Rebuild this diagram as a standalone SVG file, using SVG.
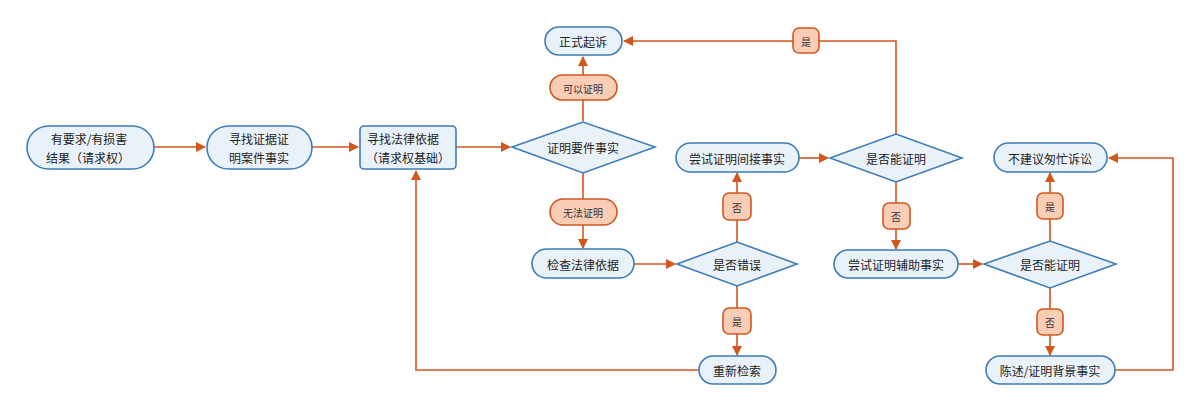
<svg xmlns="http://www.w3.org/2000/svg" width="1200" height="412" viewBox="0 0 1200 412">
<defs>
<marker id="arr" viewBox="0 0 10 10" refX="9" refY="5" markerWidth="10" markerHeight="10" markerUnits="userSpaceOnUse" orient="auto">
<path d="M0,0 L10,5 L0,10 z" fill="#d2571f"/>
</marker>
<style>
.n{fill:#eaf2f9;stroke:#3d7db8;stroke-width:1.6}
.l{fill:#f9cdb6;stroke:#d2571f;stroke-width:1.6}
.c{fill:none;stroke:#d2571f;stroke-width:1.6}
.t{font-family:"Noto Sans CJK SC","Noto Sans",sans-serif;font-size:12px;fill:#222;text-anchor:middle;dominant-baseline:central}
.s{font-family:"Noto Sans CJK SC","Noto Sans",sans-serif;font-size:10px;fill:#333;text-anchor:middle;dominant-baseline:central}
</style>
</defs>
<rect width="1200" height="412" fill="#ffffff"/>
<g id="connectors">
<path class="c" d="M154,147 H205" marker-end="url(#arr)"/>
<path class="c" d="M312,147 H358" marker-end="url(#arr)"/>
<path class="c" d="M456,147 H510" marker-end="url(#arr)"/>
<path class="c" d="M583,121 V57" marker-end="url(#arr)"/>
<path class="c" d="M583,173 V248" marker-end="url(#arr)"/>
<path class="c" d="M634,264 H675" marker-end="url(#arr)"/>
<path class="c" d="M737,242 V173" marker-end="url(#arr)"/>
<path class="c" d="M737,286 V355" marker-end="url(#arr)"/>
<path class="c" d="M699,370 H416 V171" marker-end="url(#arr)"/>
<path class="c" d="M799,158 H828" marker-end="url(#arr)"/>
<path class="c" d="M896,134 V41 H624" marker-end="url(#arr)"/>
<path class="c" d="M896,182 V249" marker-end="url(#arr)"/>
<path class="c" d="M958,264 H982" marker-end="url(#arr)"/>
<path class="c" d="M1050,241 V173" marker-end="url(#arr)"/>
<path class="c" d="M1050,288 V355" marker-end="url(#arr)"/>
<path class="c" d="M1115,370 H1173 V158 H1109" marker-end="url(#arr)"/>
</g>
<g id="n1"><rect class="n" x="27" y="126" width="127" height="43" rx="21.5"/><text class="t" x="89" y="138">有要求/有损害</text><text class="t" x="88" y="157">结果（请求权）</text></g>
<g id="n2"><rect class="n" x="207" y="126" width="105" height="43" rx="21.5"/><text class="t" x="259" y="138">寻找证据证</text><text class="t" x="259" y="157">明案件事实</text></g>
<g id="n3"><rect class="n" x="360" y="126" width="96" height="43" rx="4"/><text class="t" x="403" y="138">寻找法律依据</text><text class="t" x="408" y="157">（请求权基础）</text></g>
<g id="d1"><polygon class="n" points="512,147 583,122 655,147 583,173"/><text class="t" x="583" y="147">证明要件事实</text></g>
<g id="n4"><rect class="n" x="545" y="27" width="77" height="28" rx="14"/><text class="t" x="583" y="41">正式起诉</text></g>
<g id="lb1"><rect class="l" x="550" y="75" width="67" height="25" rx="12.5"/><text class="s" x="583" y="88">可以证明</text></g>
<g id="lb2"><rect class="l" x="550" y="199" width="67" height="26" rx="13"/><text class="s" x="583" y="212">无法证明</text></g>
<g id="n5"><rect class="n" x="532" y="249" width="102" height="29" rx="14.5"/><text class="t" x="583" y="264">检查法律依据</text></g>
<g id="d2"><polygon class="n" points="677,264 737,242 797,264 737,286"/><text class="t" x="737" y="264">是否错误</text></g>
<g id="lb3"><rect class="l" x="723" y="193" width="28" height="27" rx="6"/><text class="s" x="737" y="207">否</text></g>
<g id="lb4"><rect class="l" x="723" y="308" width="28" height="26" rx="6"/><text class="s" x="737" y="321">是</text></g>
<g id="n6"><rect class="n" x="699" y="356" width="77" height="28" rx="14"/><text class="t" x="737" y="370">重新检索</text></g>
<g id="n7"><rect class="n" x="676" y="143" width="123" height="29" rx="14.5"/><text class="t" x="737" y="158">尝试证明间接事实</text></g>
<g id="d3"><polygon class="n" points="830,158 896,134 962,158 896,182"/><text class="t" x="896" y="158">是否能证明</text></g>
<g id="lb5"><rect class="l" x="793" y="28" width="26" height="25" rx="6"/><text class="s" x="806" y="41">是</text></g>
<g id="lb6"><rect class="l" x="883" y="203" width="27" height="26" rx="6"/><text class="s" x="896" y="216">否</text></g>
<g id="n8"><rect class="n" x="834" y="250" width="124" height="28" rx="14"/><text class="t" x="896" y="264">尝试证明辅助事实</text></g>
<g id="d4"><polygon class="n" points="984,264 1050,241 1116,264 1050,288"/><text class="t" x="1050" y="264">是否能证明</text></g>
<g id="lb7"><rect class="l" x="1037" y="193" width="26" height="26" rx="6"/><text class="s" x="1050" y="206">是</text></g>
<g id="lb8"><rect class="l" x="1037" y="309" width="26" height="26" rx="6"/><text class="s" x="1050" y="322">否</text></g>
<g id="n9"><rect class="n" x="994" y="143" width="113" height="29" rx="14.5"/><text class="t" x="1050" y="158">不建议匆忙诉讼</text></g>
<g id="n10"><rect class="n" x="986" y="356" width="129" height="28" rx="14"/><text class="t" x="1050" y="370">陈述/证明背景事实</text></g>
</svg>
